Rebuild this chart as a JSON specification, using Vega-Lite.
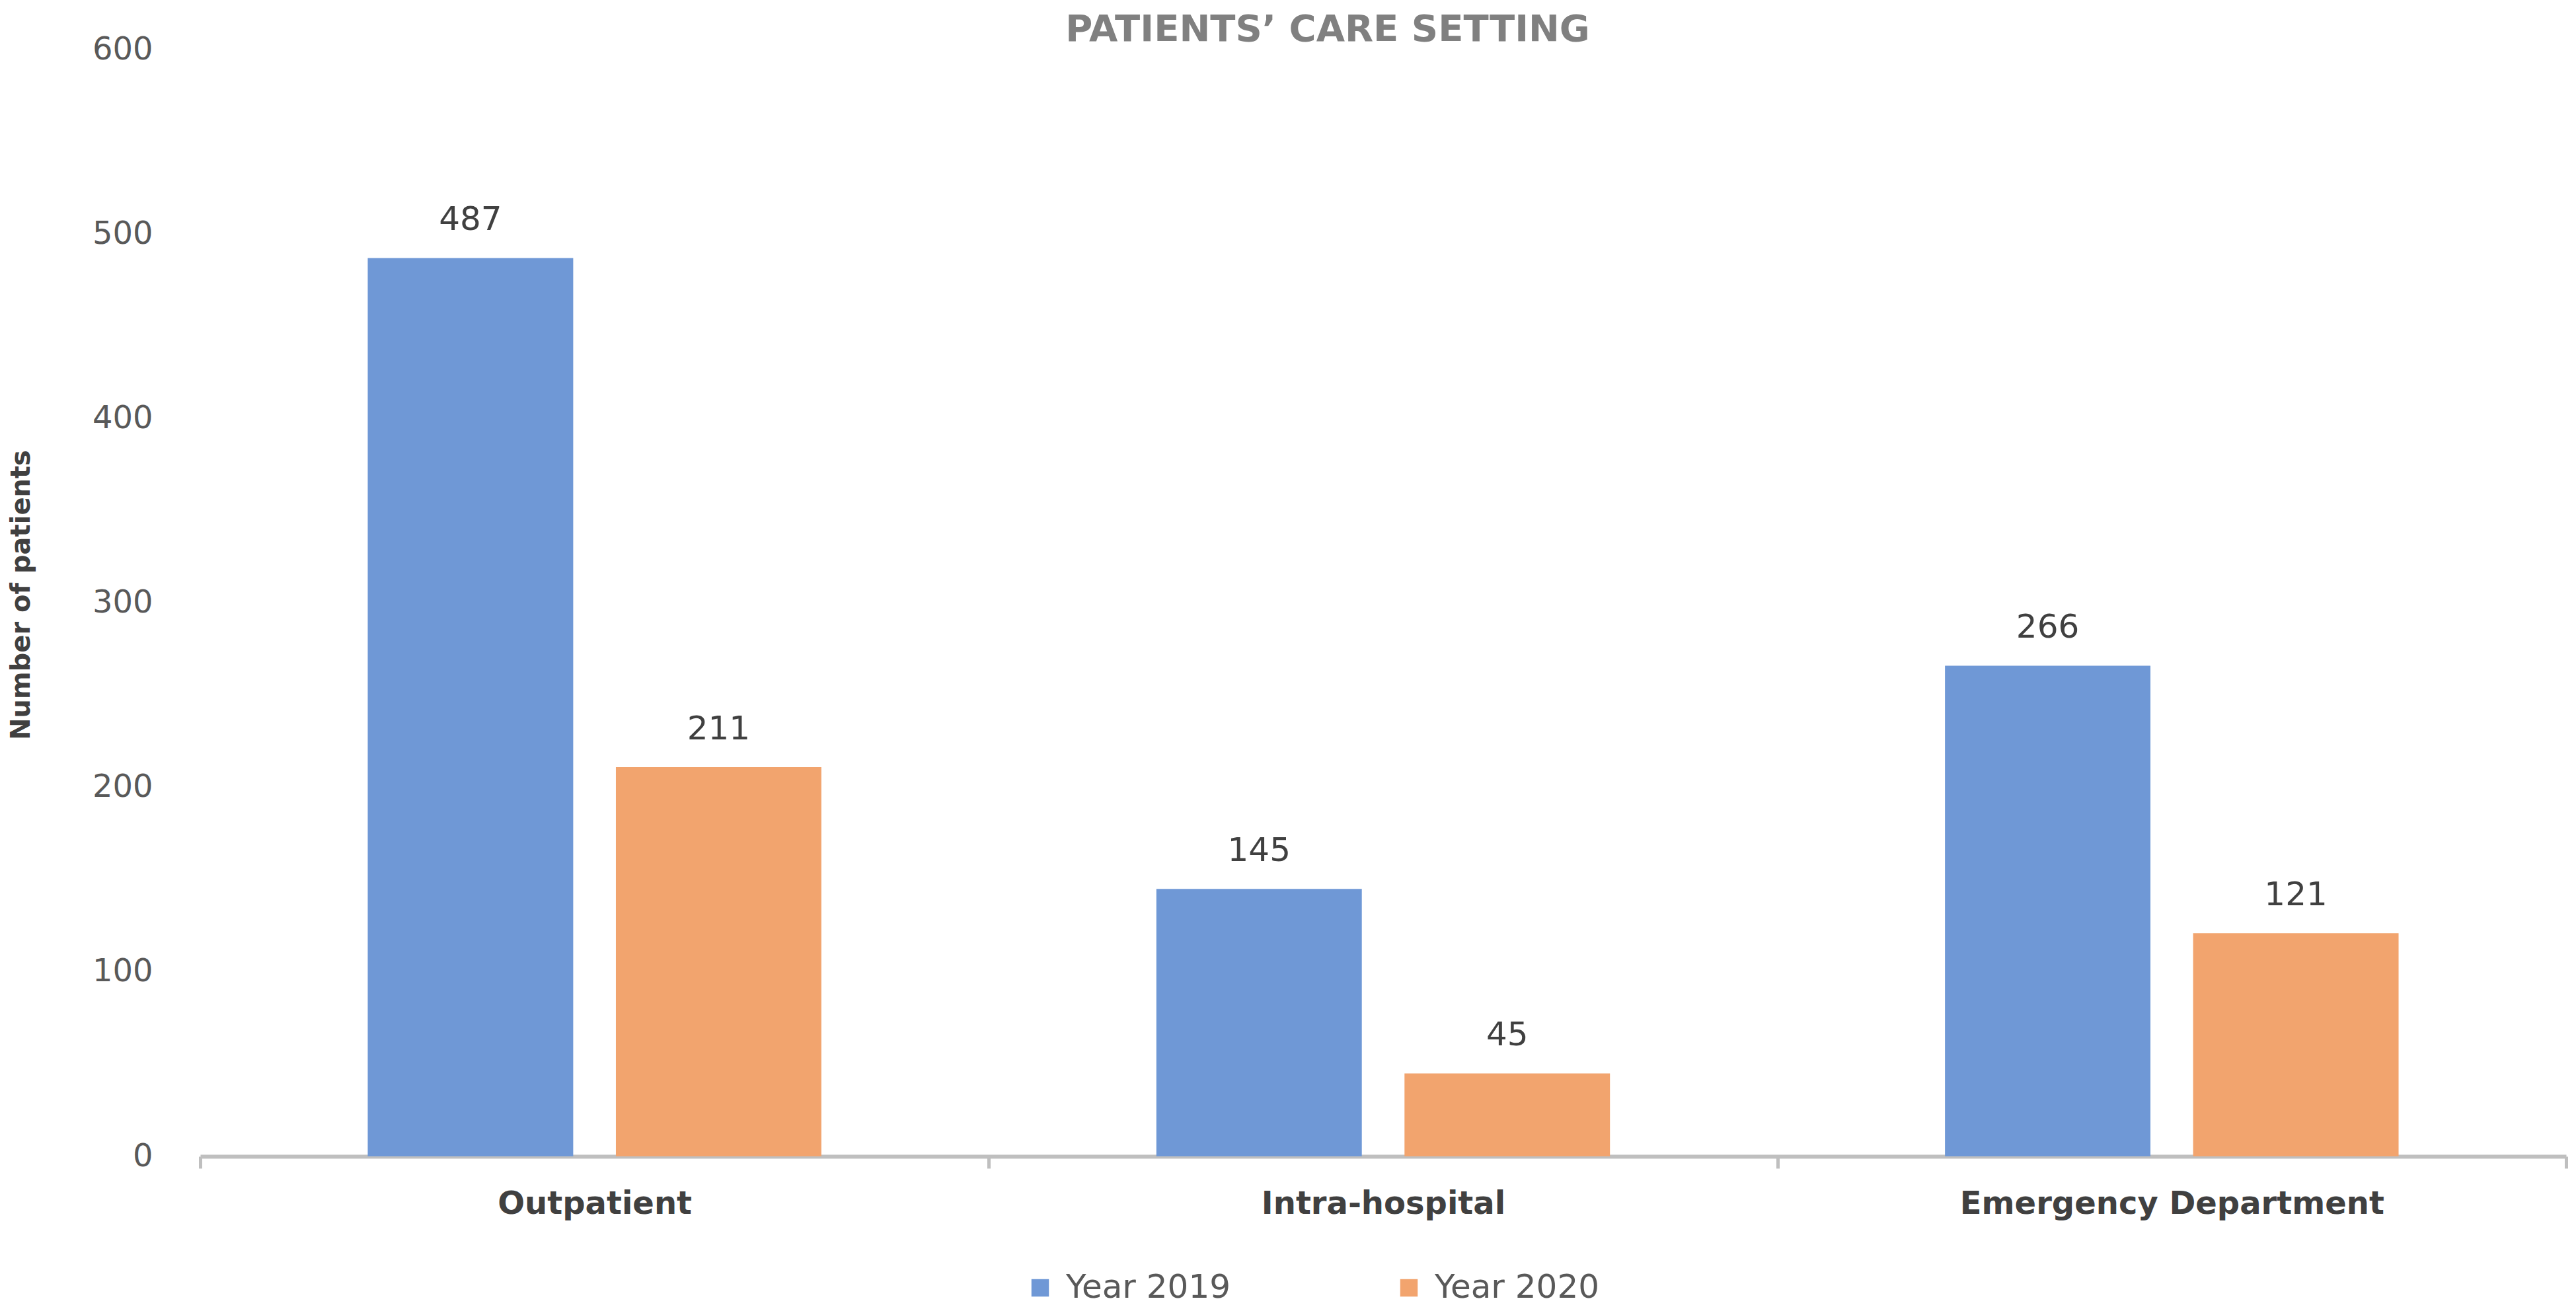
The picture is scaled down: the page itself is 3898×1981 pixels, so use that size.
{
  "$schema": "https://vega.github.io/schema/vega-lite/v6.json",
  "width": 3580,
  "height": 1675,
  "autosize": {"type": "none"},
  "padding": {"left": 303, "top": 75, "right": 15, "bottom": 231},
  "background": "white",
  "config": {
    "view": {"stroke": null},
    "font": "DejaVu Sans"
  },
  "title": {
    "text": "PATIENTS’ CARE SETTING",
    "font": "DejaVu Sans",
    "fontSize": 56,
    "fontWeight": "bold",
    "color": "#808080",
    "anchor": "middle",
    "frame": "group",
    "dx": -84,
    "dy": 75,
    "baseline": "alphabetic",
    "offset": 8
  },
  "data": {
    "values": [
      {"setting": "Outpatient", "year": "Year 2019", "patients": 487},
      {"setting": "Outpatient", "year": "Year 2020", "patients": 211},
      {"setting": "Intra-hospital", "year": "Year 2019", "patients": 145},
      {"setting": "Intra-hospital", "year": "Year 2020", "patients": 45},
      {"setting": "Emergency Department", "year": "Year 2019", "patients": 266},
      {"setting": "Emergency Department", "year": "Year 2020", "patients": 121}
    ]
  },
  "encoding": {
    "x": {
      "field": "setting",
      "type": "nominal",
      "sort": ["Outpatient", "Intra-hospital", "Emergency Department"],
      "scale": {"paddingInner": 0, "paddingOuter": 0},
      "axis": {
        "title": null,
        "labelAngle": 0,
        "labelFont": "DejaVu Sans",
        "labelFontSize": 48,
        "labelFontWeight": "bold",
        "labelColor": "#404040",
        "labelPadding": 30,
        "labelLimit": 1000,
        "domainColor": "#bfbfbf",
        "domainWidth": 6,
        "tickColor": "#bfbfbf",
        "tickWidth": 5,
        "tickSize": 18,
        "tickBand": "extent",
        "grid": false
      }
    },
    "xOffset": {
      "field": "year",
      "type": "nominal",
      "scale": {"paddingInner": 0.172, "paddingOuter": 0.675}
    },
    "y": {
      "field": "patients",
      "type": "quantitative",
      "scale": {"domain": [0, 600], "nice": false},
      "axis": {
        "values": [0, 100, 200, 300, 400, 500, 600],
        "title": "Number of patients",
        "titleFont": "DejaVu Sans",
        "titleFontSize": 40,
        "titleFontWeight": "bold",
        "titleColor": "#404040",
        "titleX": -271,
        "titleY": 825,
        "titleAlign": "center",
        "titleBaseline": "middle",
        "titleAngle": 270,
        "labelFont": "DejaVu Sans",
        "labelFontSize": 48,
        "labelColor": "#595959",
        "labelPadding": 72,
        "domain": false,
        "ticks": false,
        "grid": false
      }
    },
    "color": {
      "field": "year",
      "type": "nominal",
      "scale": {"domain": ["Year 2019", "Year 2020"], "range": ["#6f98d6", "#f2a46e"]},
      "legend": {
        "title": null,
        "orient": "none",
        "direction": "horizontal",
        "legendX": 1246,
        "legendY": 1849,
        "symbolType": "square",
        "symbolSize": 700,
        "symbolOpacity": 1,
        "symbolStrokeWidth": 0,
        "labelFont": "DejaVu Sans",
        "labelFontSize": 50,
        "labelColor": "#595959",
        "labelOffset": 14,
        "labelLimit": 1000,
        "columnPadding": 245
      }
    }
  },
  "layer": [
    {"mark": {"type": "bar"}},
    {
      "mark": {
        "type": "text",
        "baseline": "bottom",
        "dy": -32,
        "fontSize": 50,
        "font": "DejaVu Sans",
        "color": "#404040"
      },
      "encoding": {
        "text": {"field": "patients", "type": "quantitative"},
        "color": {"value": "#404040"}
      }
    }
  ]
}
